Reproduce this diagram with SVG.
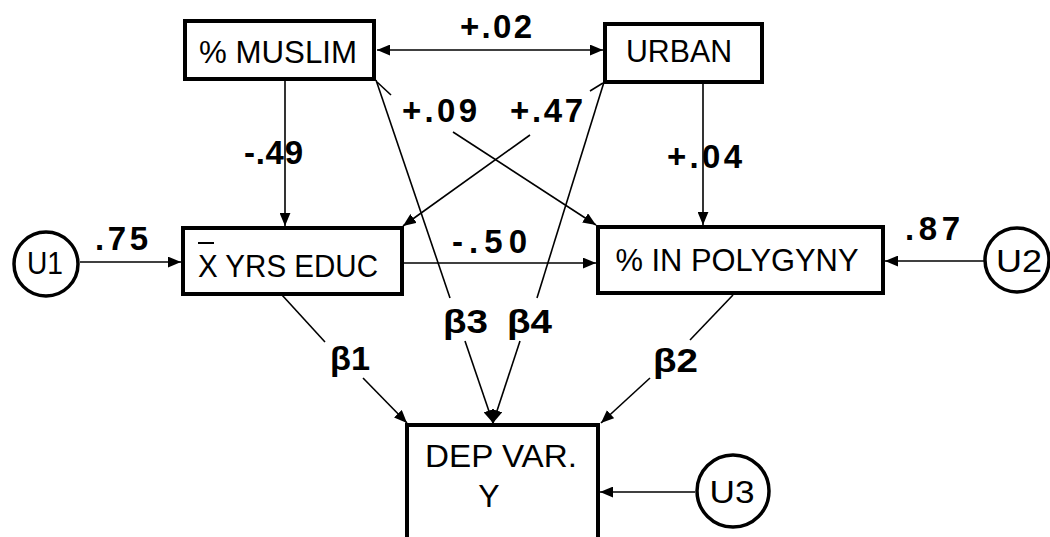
<svg xmlns="http://www.w3.org/2000/svg" width="1050" height="537" viewBox="0 0 1050 537">
<defs>
<style>
.box{fill:#fff;stroke:#000;stroke-width:4}
.circ{fill:#fff;stroke:#000;stroke-width:3.5}
.bt{font-family:"Liberation Sans",Arial,sans-serif;font-size:32px;fill:#000}
.lbl{font-family:"Liberation Sans",Arial,sans-serif;font-size:33px;font-weight:bold;fill:#000}
.con line{stroke:#000;stroke-width:1.6;fill:none}
</style>
<marker id="ah" viewBox="0 0 12 10" refX="12" refY="5" markerWidth="13" markerHeight="11" markerUnits="userSpaceOnUse" orient="auto-start-reverse">
<path d="M0,0 L12,5 L0,10 Z" fill="#000"/>
</marker>
</defs>
<rect width="1050" height="537" fill="#fff"/>
<g id="connectors" class="con">
<line x1="377" y1="50" x2="603" y2="50" marker-start="url(#ah)" marker-end="url(#ah)"/>
<line x1="285" y1="80" x2="285" y2="226" marker-end="url(#ah)"/>
<line x1="703" y1="83" x2="703" y2="225" marker-end="url(#ah)"/>
<line x1="80" y1="262" x2="181" y2="262" marker-end="url(#ah)"/>
<line x1="985" y1="261" x2="885" y2="261" marker-end="url(#ah)"/>
<line x1="404" y1="263" x2="596" y2="263" marker-end="url(#ah)"/>
<line x1="695" y1="492" x2="600" y2="492" marker-end="url(#ah)"/>
<line x1="453" y1="132" x2="596" y2="225" marker-end="url(#ah)"/>
<line x1="530" y1="135" x2="403" y2="226" marker-end="url(#ah)"/>
<line x1="376" y1="80" x2="450" y2="298"/>
<line x1="465" y1="341" x2="493" y2="423" marker-end="url(#ah)"/>
<line x1="604" y1="82" x2="537" y2="298"/>
<line x1="520" y1="341" x2="493" y2="423" marker-end="url(#ah)"/>
<line x1="282" y1="295" x2="325" y2="342"/>
<line x1="363" y1="378" x2="407" y2="423" marker-end="url(#ah)"/>
<line x1="733" y1="295" x2="690" y2="340"/>
<line x1="650" y1="378" x2="601" y2="423" marker-end="url(#ah)"/>
<line x1="377" y1="82" x2="391" y2="95"/>
<line x1="603" y1="83" x2="590" y2="91"/>
</g>
<g id="muslim"><rect class="box" x="185" y="21" width="189" height="58"/><text class="bt" x="278" y="63" text-anchor="middle" textLength="158" lengthAdjust="spacingAndGlyphs">% MUSLIM</text></g>
<g id="urban"><rect class="box" x="605" y="24" width="157" height="58"/><text class="bt" x="679" y="62" text-anchor="middle" textLength="106" lengthAdjust="spacingAndGlyphs">URBAN</text></g>
<g id="educ"><rect class="box" x="183" y="228" width="219" height="66"/><text class="bt" x="288" y="277" text-anchor="middle" textLength="180" lengthAdjust="spacingAndGlyphs">X YRS EDUC</text><line x1="198" y1="243" x2="214" y2="243" stroke="#000" stroke-width="2"/></g>
<g id="polygyny"><rect class="box" x="598" y="227" width="285" height="66"/><text class="bt" x="737" y="271" text-anchor="middle" textLength="243" lengthAdjust="spacingAndGlyphs">% IN POLYGYNY</text></g>
<g id="depvar"><path class="box" d="M407,545 L407,425 L598,425 L598,545"/><text class="bt" x="501" y="467" text-anchor="middle" textLength="152" lengthAdjust="spacingAndGlyphs">DEP VAR.</text><text class="bt" x="489" y="507" text-anchor="middle">Y</text></g>
<g id="u1"><circle class="circ" cx="46" cy="264" r="32"/><text class="bt" x="45" y="274" text-anchor="middle" textLength="36" lengthAdjust="spacingAndGlyphs">U1</text></g>
<g id="u2"><circle class="circ" cx="1017" cy="260" r="32"/><text class="bt" x="1019" y="272" text-anchor="middle" textLength="46" lengthAdjust="spacingAndGlyphs">U2</text></g>
<g id="u3"><circle class="circ" cx="733" cy="491" r="36"/><text class="bt" x="732" y="503" text-anchor="middle" textLength="45" lengthAdjust="spacingAndGlyphs">U3</text></g>
<g id="labels">
<text class="lbl" x="460" y="38" textLength="72" lengthAdjust="spacing">+.02</text>
<text class="lbl" x="402" y="122" textLength="75" lengthAdjust="spacing">+.09</text>
<text class="lbl" x="510" y="122" textLength="73" lengthAdjust="spacing">+.47</text>
<text class="lbl" x="244" y="164" textLength="59" lengthAdjust="spacing">-.49</text>
<text class="lbl" x="667" y="168" textLength="75" lengthAdjust="spacing">+.04</text>
<text class="lbl" x="95" y="250" textLength="53" lengthAdjust="spacing">.75</text>
<text class="lbl" x="452" y="253" textLength="75" lengthAdjust="spacing">-.50</text>
<text class="lbl" x="905" y="240" textLength="55" lengthAdjust="spacing">.87</text>
<text class="lbl" x="330" y="370" textLength="40" lengthAdjust="spacingAndGlyphs">β1</text>
<text class="lbl" x="443" y="333" textLength="45" lengthAdjust="spacingAndGlyphs">β3</text>
<text class="lbl" x="507" y="333" textLength="45" lengthAdjust="spacingAndGlyphs">β4</text>
<text class="lbl" x="653" y="372" textLength="45" lengthAdjust="spacingAndGlyphs">β2</text>
</g>
</svg>
